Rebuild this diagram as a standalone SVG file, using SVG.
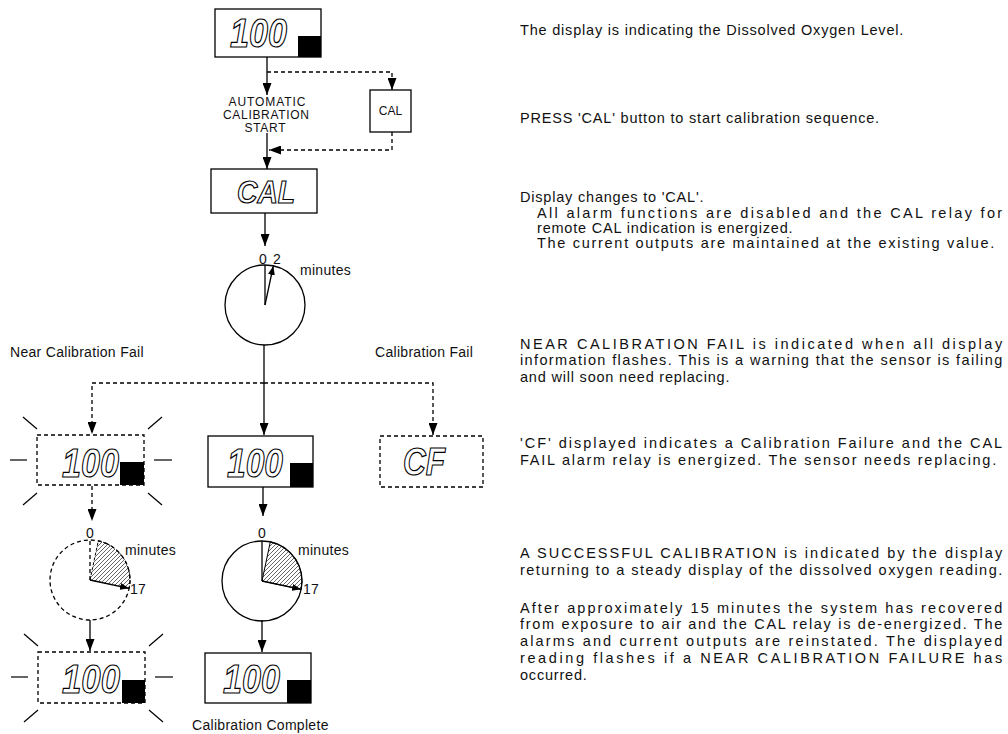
<svg xmlns="http://www.w3.org/2000/svg" width="1008" height="734" viewBox="0 0 1008 734">
<style>
.box{fill:#fff;stroke:#000;stroke-width:1.3}
.dbox{fill:#fff;stroke:#000;stroke-width:1.3;stroke-dasharray:4 3}
.sq{fill:#000}
.seg{font-family:"Liberation Sans",Arial,sans-serif;font-style:italic;font-weight:bold;fill:#fff;stroke:#000;stroke-width:1.2}
.ln{fill:none;stroke:#000;stroke-width:1.3}
.dl{fill:none;stroke:#000;stroke-width:1.3;stroke-dasharray:4 3}
.t{font-family:"Liberation Sans",Arial,sans-serif;font-size:14.5px;letter-spacing:0.8px;fill:#111}
.s{font-family:"Liberation Sans",Arial,sans-serif;font-size:14px;letter-spacing:0.3px;fill:#111}
.c{font-family:"Liberation Sans",Arial,sans-serif;font-size:12px;fill:#111;text-anchor:middle}
.ray{stroke:#000;stroke-width:1.2}
</style>
<defs>
<marker id="ah" markerUnits="userSpaceOnUse" markerWidth="12" markerHeight="9" refX="12" refY="4.5" orient="auto">
<path d="M0,0 L12,4.5 L0,9 z" fill="#000"/>
</marker>
<marker id="hh" markerUnits="userSpaceOnUse" markerWidth="9" markerHeight="7" refX="9" refY="3.5" orient="auto">
<path d="M0,0 L9,3.5 L0,7 z" fill="#000"/>
</marker>
<pattern id="hatch" patternUnits="userSpaceOnUse" width="4" height="4">
<path d="M-1,1 l2,-2 M0,4 l4,-4 M3,5 l2,-2" stroke="#000" stroke-width="0.6"/>
</pattern>
<g id="rays">
<line class="ray" x1="10" y1="460" x2="27" y2="460"/>
<line class="ray" x1="154" y1="460" x2="172" y2="460"/>
<line class="ray" x1="23" y1="417" x2="37" y2="429"/>
<line class="ray" x1="148" y1="429" x2="162" y2="417"/>
<line class="ray" x1="23" y1="505" x2="37" y2="493"/>
<line class="ray" x1="148" y1="493" x2="162" y2="505"/>
</g>
</defs>
<rect width="1008" height="734" fill="#fff"/>

<g id="connectors">
<line class="ln" x1="267" y1="57" x2="267" y2="95" marker-end="url(#ah)"/>
<line class="ln" x1="267" y1="133" x2="267" y2="169" marker-end="url(#ah)"/>
<polyline class="dl" points="267,72 392,72 392,90" marker-end="url(#ah)"/>
<polyline class="dl" points="392,132 392,150 269,150" marker-end="url(#ah)"/>
<line class="ln" x1="265" y1="213" x2="265" y2="246" marker-end="url(#ah)"/>
<line class="ln" x1="264" y1="345" x2="264" y2="435" marker-end="url(#ah)"/>
<polyline class="dl" points="264,383 92,383 92,434" marker-end="url(#ah)"/>
<polyline class="dl" points="264,383 433,383 433,435" marker-end="url(#ah)"/>
<line class="dl" x1="92" y1="486" x2="92" y2="521" marker-end="url(#ah)"/>
<line class="ln" x1="90" y1="620" x2="90" y2="651" marker-end="url(#ah)"/>
<line class="ln" x1="263" y1="487" x2="263" y2="516" marker-end="url(#ah)"/>
<line class="ln" x1="262" y1="620" x2="262" y2="652" marker-end="url(#ah)"/>
</g>

<g id="label-auto">
<text class="c" x="267" y="106" textLength="77" lengthAdjust="spacing">AUTOMATIC</text>
<text class="c" x="266" y="119" textLength="86" lengthAdjust="spacing">CALIBRATION</text>
<text class="c" x="265" y="132" textLength="41" lengthAdjust="spacing">START</text>
</g>

<g id="display-top">
<rect class="box" x="215" y="9" width="106" height="48"/>
<text class="seg" x="230" y="47" font-size="40" textLength="57" lengthAdjust="spacingAndGlyphs">100</text>
<rect class="sq" x="298" y="36" width="23" height="21"/>
</g>

<g id="cal-button">
<rect class="box" x="370" y="90" width="41" height="42"/>
<text class="c" x="390.5" y="115">CAL</text>
</g>

<g id="display-cal">
<rect class="box" x="211" y="169" width="106" height="44"/>
<text class="seg" x="237" y="203" font-size="32" textLength="58" lengthAdjust="spacingAndGlyphs">CAL</text>
</g>

<g id="clock-start">
<circle class="ln" cx="265" cy="305" r="40"/>
<line class="ln" x1="265" y1="305" x2="265" y2="265"/>
<line class="ln" x1="265" y1="305" x2="273.3" y2="266" marker-end="url(#hh)"/>
<text class="s" x="259" y="264" textLength="22" lengthAdjust="spacing">0 2</text>
<text class="s" x="300" y="275">minutes</text>
</g>

<g id="label-near"><text class="s" x="10" y="357">Near Calibration Fail</text></g>
<g id="label-fail"><text class="s" x="375" y="357">Calibration Fail</text></g>

<g id="display-near">
<use href="#rays"/>
<rect class="dbox" x="37" y="435" width="107" height="50"/>
<text class="seg" x="62" y="477" font-size="41" textLength="57" lengthAdjust="spacingAndGlyphs">100</text>
<rect class="sq" x="120" y="462" width="24" height="23"/>
</g>

<g id="display-mid">
<rect class="box" x="208" y="436" width="105" height="51"/>
<text class="seg" x="227" y="477" font-size="41" textLength="56" lengthAdjust="spacingAndGlyphs">100</text>
<rect class="sq" x="290" y="463" width="23" height="24"/>
</g>

<g id="display-cf">
<rect class="dbox" x="380" y="436" width="103" height="51"/>
<text class="seg" x="403" y="475" font-size="38" textLength="42" lengthAdjust="spacingAndGlyphs">CF</text>
</g>

<g id="clock-near">
<path d="M90,580 L98.3,540.9 A40,40 0 0 1 129.1,588.3 Z" fill="url(#hatch)" stroke="#000" stroke-width="1" stroke-dasharray="3 2"/>
<circle class="dl" cx="90" cy="580" r="40"/>
<line class="dl" x1="90" y1="580" x2="90" y2="540"/>
<line class="ln" x1="90" y1="580" x2="129" y2="588.3" marker-end="url(#hh)"/>
<text class="s" x="86" y="538">0</text>
<text class="s" x="125" y="555">minutes</text>
<text class="s" x="130" y="594">17</text>
</g>

<g id="clock-mid">
<path d="M262,581 L270.3,541.9 A40,40 0 0 1 301.1,589.3 Z" fill="url(#hatch)" stroke="#000" stroke-width="1"/>
<circle class="ln" cx="262" cy="581" r="40"/>
<line class="ln" x1="262" y1="581" x2="262" y2="541"/>
<line class="ln" x1="262" y1="581" x2="301" y2="589.3" marker-end="url(#hh)"/>
<text class="s" x="258" y="538">0</text>
<text class="s" x="298" y="555">minutes</text>
<text class="s" x="303" y="594">17</text>
</g>

<g id="display-near-end">
<use href="#rays" transform="translate(1,217)"/>
<rect class="dbox" x="38" y="652" width="107" height="51"/>
<text class="seg" x="62" y="693" font-size="41" textLength="58" lengthAdjust="spacingAndGlyphs">100</text>
<rect class="sq" x="122" y="680" width="23" height="23"/>
</g>

<g id="display-complete">
<rect class="box" x="205" y="653" width="106" height="50"/>
<text class="seg" x="223" y="693" font-size="41" textLength="57" lengthAdjust="spacingAndGlyphs">100</text>
<rect class="sq" x="287" y="680" width="24" height="23"/>
<text class="s" x="192" y="730">Calibration Complete</text>
</g>

<g id="descriptions">
<text class="t" x="520" y="35">The display is indicating the Dissolved Oxygen Level.</text>
<text class="t" x="520" y="123">PRESS 'CAL' button to start calibration sequence.</text>
<text class="t" x="520" y="202">Display changes to 'CAL'.</text>
<text class="t" x="537" y="218" textLength="466" lengthAdjust="spacing">All alarm functions are disabled and the CAL relay for</text>
<text class="t" x="537" y="233">remote CAL indication is energized.</text>
<text class="t" x="537" y="248" textLength="458" lengthAdjust="spacing">The current outputs are maintained at the existing value.</text>
<text class="t" x="520" y="349" textLength="483" lengthAdjust="spacing">NEAR CALIBRATION FAIL is indicated when all display</text>
<text class="t" x="520" y="365" textLength="483" lengthAdjust="spacing">information flashes. This is a warning that the sensor is failing</text>
<text class="t" x="520" y="382">and will soon need replacing.</text>
<text class="t" x="520" y="448" textLength="483" lengthAdjust="spacing">'CF' displayed indicates a Calibration Failure and the CAL</text>
<text class="t" x="520" y="465" textLength="477" lengthAdjust="spacing">FAIL alarm relay is energized. The sensor needs replacing.</text>
<text class="t" x="520" y="558" textLength="483" lengthAdjust="spacing">A SUCCESSFUL CALIBRATION is indicated by the display</text>
<text class="t" x="520" y="575" textLength="483" lengthAdjust="spacing">returning to a steady display of the dissolved oxygen reading.</text>
<text class="t" x="520" y="613" textLength="483" lengthAdjust="spacing">After approximately 15 minutes the system has recovered</text>
<text class="t" x="520" y="629" textLength="483" lengthAdjust="spacing">from exposure to air and the CAL relay is de-energized. The</text>
<text class="t" x="520" y="646" textLength="483" lengthAdjust="spacing">alarms and current outputs are reinstated. The displayed</text>
<text class="t" x="520" y="663" textLength="483" lengthAdjust="spacing">reading flashes if a NEAR CALIBRATION FAILURE has</text>
<text class="t" x="520" y="680">occurred.</text>
</g>
</svg>
